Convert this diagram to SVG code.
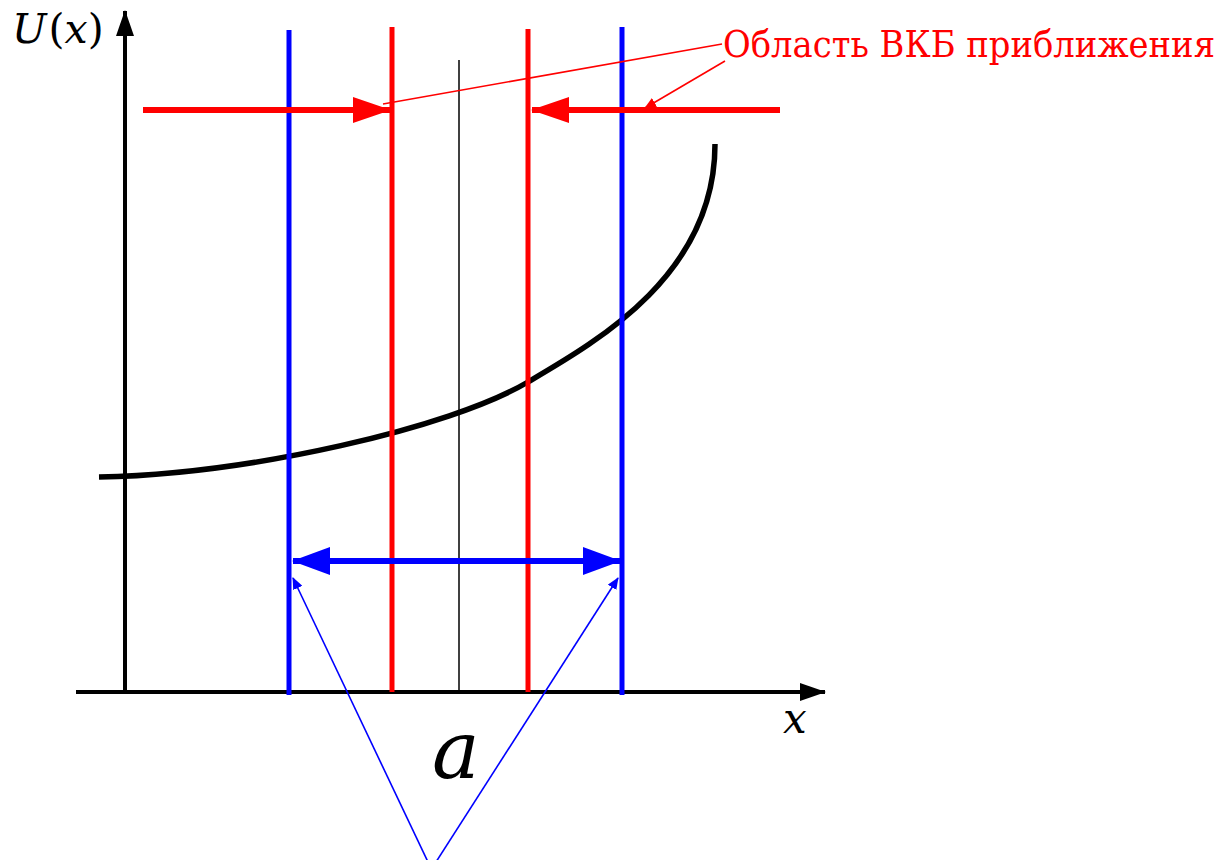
<svg xmlns="http://www.w3.org/2000/svg" width="1226" height="860" viewBox="0 0 1226 860">
<style>
.ax{stroke:#000;stroke-width:4;fill:none}
.bl{stroke:#0000ff;stroke-width:5;fill:none}
.rd{stroke:#ff0000;stroke-width:5;fill:none}
</style>
<defs>
<marker id="bigR" markerUnits="userSpaceOnUse" viewBox="0 0 38 26" markerWidth="38" markerHeight="26" refX="37" refY="13" orient="auto"><path d="M0,0 L38,13 L0,26 Z" fill="#ff0000"/></marker>
<marker id="bigB" markerUnits="userSpaceOnUse" viewBox="0 0 38 28" markerWidth="38" markerHeight="28" refX="37" refY="14" orient="auto-start-reverse"><path d="M0,0 L38,14 L0,28 Z" fill="#0000ff"/></marker>
<marker id="axA" markerUnits="userSpaceOnUse" viewBox="0 0 26 18" markerWidth="26" markerHeight="18" refX="25" refY="9" orient="auto"><path d="M0,0 L26,9 L0,18 Z" fill="#000"/></marker>
<marker id="smR" markerUnits="userSpaceOnUse" viewBox="0 0 12 10" markerWidth="12" markerHeight="10" refX="11" refY="5" orient="auto"><path d="M0,0 L12,5 L0,10 Z" fill="#ff0000"/></marker>
<marker id="smB" markerUnits="userSpaceOnUse" viewBox="0 0 12 10" markerWidth="12" markerHeight="10" refX="11" refY="5" orient="auto"><path d="M0,0 L12,5 L0,10 Z" fill="#0000ff"/></marker>
</defs>
<g id="axes">
<line class="ax" x1="76" y1="692" x2="825" y2="692" marker-end="url(#axA)"/>
<line class="ax" x1="125" y1="694" x2="125" y2="11" marker-end="url(#axA)"/>
</g>
<g id="curve">
<path d="M99,477 C250,474 450,428 528,382 C598,341 715,274 715,144" stroke="#000" stroke-width="5.5" fill="none"/>
</g>
<g id="verticals">
<line class="bl" x1="289" y1="30" x2="289" y2="695"/>
<line class="bl" x1="622" y1="27" x2="622" y2="695"/>
<line class="rd" x1="392" y1="27" x2="392" y2="692"/>
<line class="rd" x1="528" y1="29" x2="528" y2="692"/>
<line x1="459" y1="60" x2="459" y2="692" stroke="#000" stroke-width="1.5"/>
</g>
<g id="connectors">
<line x1="143" y1="110" x2="390" y2="110" stroke="#ff0000" stroke-width="6" marker-end="url(#bigR)"/>
<line x1="780" y1="110" x2="532" y2="110" stroke="#ff0000" stroke-width="6" marker-end="url(#bigR)"/>
<line x1="293" y1="561" x2="620" y2="561" stroke="#0000ff" stroke-width="6" marker-start="url(#bigB)" marker-end="url(#bigB)"/>
<line x1="722" y1="44" x2="383" y2="104" stroke="#ff0000" stroke-width="1.6"/>
<line x1="725" y1="61" x2="645" y2="108" stroke="#ff0000" stroke-width="1.6" marker-end="url(#smR)"/>
<line x1="428" y1="862" x2="293" y2="578" stroke="#0000ff" stroke-width="1.6" marker-end="url(#smB)"/>
<line x1="436" y1="862" x2="618" y2="578" stroke="#0000ff" stroke-width="1.6" marker-end="url(#smB)"/>
</g>
<g id="labels">
<text x="12" y="43" font-size="41" font-family="DejaVu Serif, serif"><tspan font-style="italic">U</tspan><tspan dx="2">(</tspan><tspan font-style="italic">x</tspan>)</text>
<text x="783" y="733" font-size="42" font-style="italic" font-family="DejaVu Serif, serif">x</text>
<text x="432" y="778" font-size="80" font-style="italic" font-family="DejaVu Serif, serif">a</text>
<text x="723" y="57" font-size="38" fill="#ff0000" font-family="DejaVu Serif Condensed, DejaVu Serif, serif" textLength="492" lengthAdjust="spacingAndGlyphs">Область ВКБ приближения</text>
</g>
</svg>
